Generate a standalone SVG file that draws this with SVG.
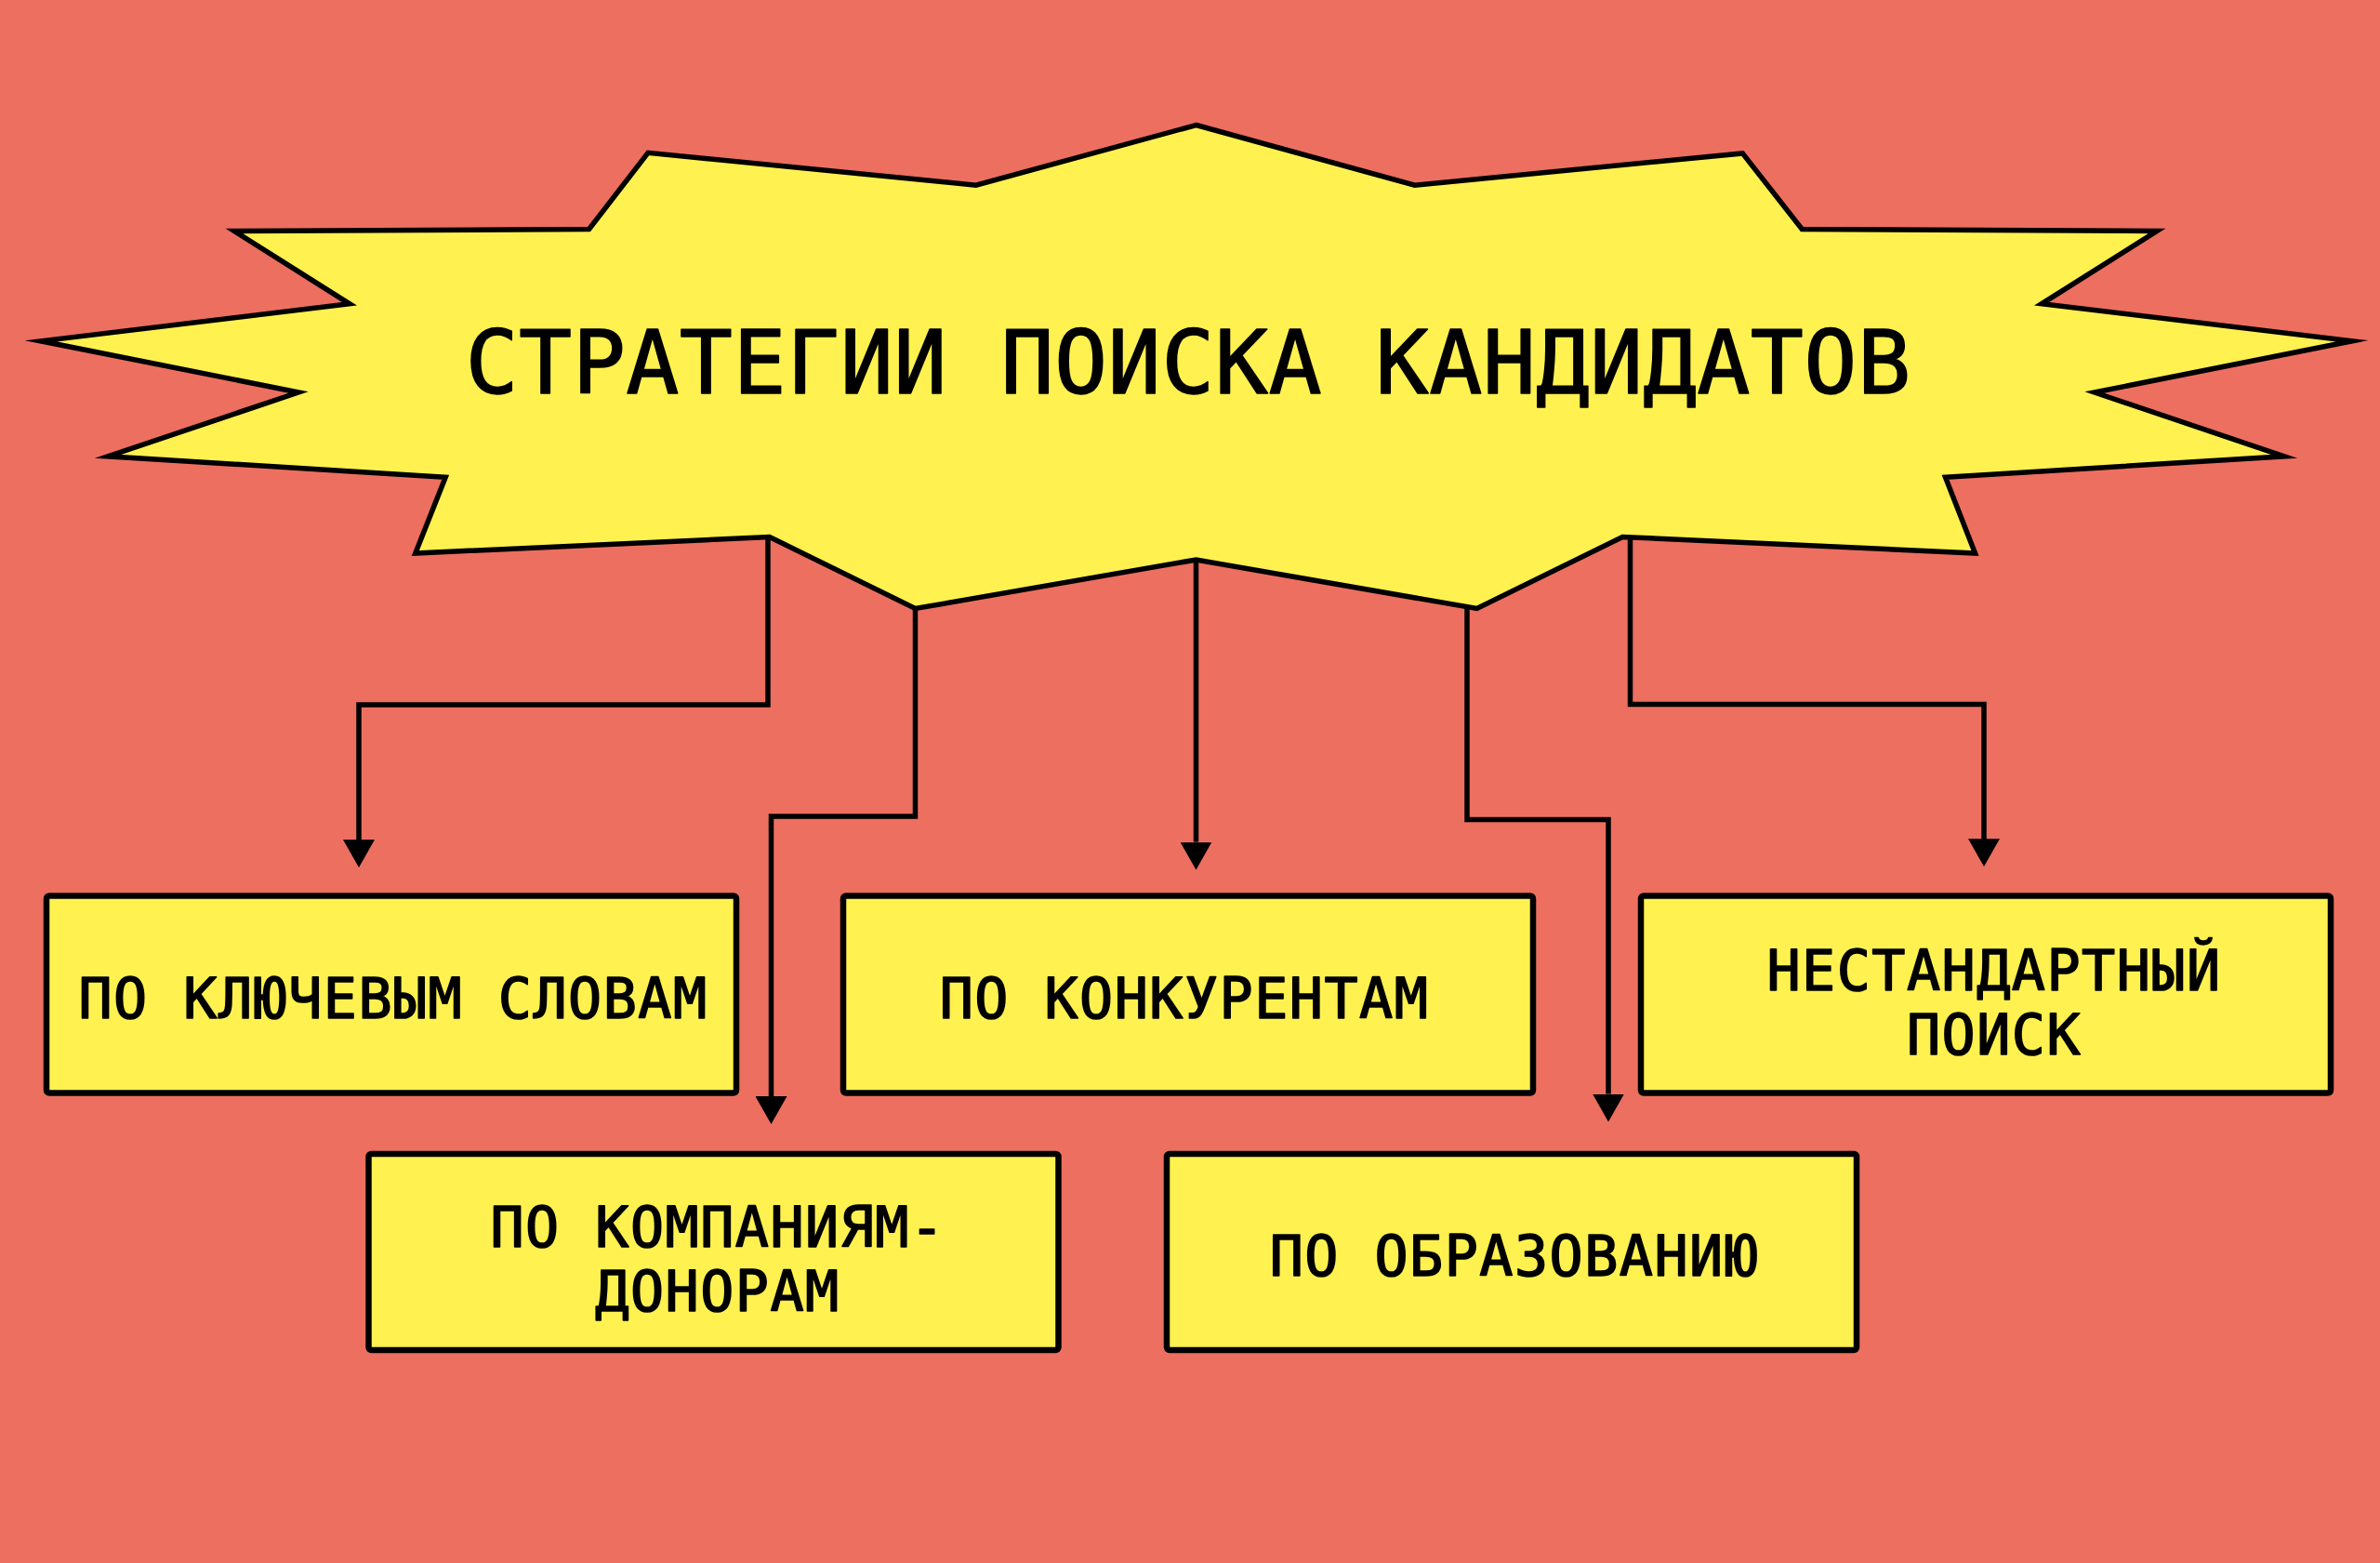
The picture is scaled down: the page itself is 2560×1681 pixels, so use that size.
<svg xmlns="http://www.w3.org/2000/svg" width="2560" height="1681" viewBox="0 0 2560 1681">
  <defs>
    <style>
      .bg { fill: #ED6F60; }
      .star { fill: #FFF150; stroke: #000; stroke-width: 5.5; stroke-linejoin: miter; stroke-miterlimit: 20; }
      .box { fill: #FFF150; stroke: #000; stroke-width: 6.5; }
      .conn { fill: none; stroke: #000; stroke-width: 5.5; stroke-linejoin: miter; marker-end: url(#arrow); }
      .title { font-family: "DejaVu Sans Mono", "Liberation Mono", monospace; font-size: 95px; letter-spacing: 0.4px; fill: #000; stroke: #000; stroke-width: 1.5; stroke-linejoin: round; text-anchor: middle; }
      .label { font-family: "DejaVu Sans Mono", "Liberation Mono", monospace; font-size: 60px; letter-spacing: 1.5px; fill: #000; stroke: #000; stroke-width: 1.6; stroke-linejoin: round; text-anchor: middle; }
    </style>
    <marker id="arrow" viewBox="0 0 30 34" refX="0" refY="17" markerWidth="30" markerHeight="34" markerUnits="userSpaceOnUse" orient="auto">
      <path d="M0,0 L30,17 L0,34 Z" fill="#000"/>
    </marker>
  </defs>

  <rect class="bg" x="0" y="0" width="2560" height="1681"/>

  <g id="connectors">
    <path class="conn" d="M826,578 L826,758 L386,758 L386,903"/>
    <path class="conn" d="M984.5,654 L984.5,878 L829.5,878 L829.5,1179"/>
    <path class="conn" d="M1286.5,602 L1286.5,905.5"/>
    <path class="conn" d="M1578,652 L1578,881.5 L1730,881.5 L1730,1176.5"/>
    <path class="conn" d="M1753.5,578 L1753.5,757.5 L2134,757.5 L2134,902"/>
  </g>

  <g id="title-node">
    <polygon class="star" points="1286.6,134.5 1521.7,199.2 1874.3,164.9 1938.3,246.5 2320,248.5 2196,326.8 2530,366.8 2253,422 2457,490.8 2092.5,513.3 2124.5,595 1745.2,577.5 1588.6,654.5 1286.6,602 984.5,654.5 827.8,577.5 446.8,595 479.2,513.3 116,490.8 321,422 44,366.8 376,326.8 252,248.5 633.6,246.5 697,164.3 1049.8,199.2"/>
    <text class="title" x="1278" y="423">СТРАТЕГИИ ПОИСКА КАНДИДАТОВ</text>
  </g>

  <g id="node-keywords">
    <rect class="box" x="50" y="963.5" width="742" height="212" rx="3"/>
    <text class="label" x="423" y="1094.5">ПО КЛЮЧЕВЫМ СЛОВАМ</text>
  </g>

  <g id="node-donors">
    <rect class="box" x="396.5" y="1241" width="742" height="211" rx="3"/>
    <text class="label" x="772" y="1340.5">ПО КОМПАНИЯМ-</text>
    <text class="label" x="772" y="1410">ДОНОРАМ</text>
  </g>

  <g id="node-competitors">
    <rect class="box" x="907" y="963.5" width="742" height="212" rx="3"/>
    <text class="label" x="1274" y="1094.5">ПО КОНКУРЕНТАМ</text>
  </g>

  <g id="node-education">
    <rect class="box" x="1255" y="1241" width="742" height="211" rx="3"/>
    <text class="label" x="1629" y="1371.5">ПО ОБРАЗОВАНИЮ</text>
  </g>

  <g id="node-nonstandard">
    <rect class="box" x="1765" y="963.5" width="742" height="212" rx="3"/>
    <text class="label" x="2145" y="1065">НЕСТАНДАРТНЫЙ</text>
    <text class="label" x="2145" y="1134">ПОИСК</text>
  </g>
</svg>
